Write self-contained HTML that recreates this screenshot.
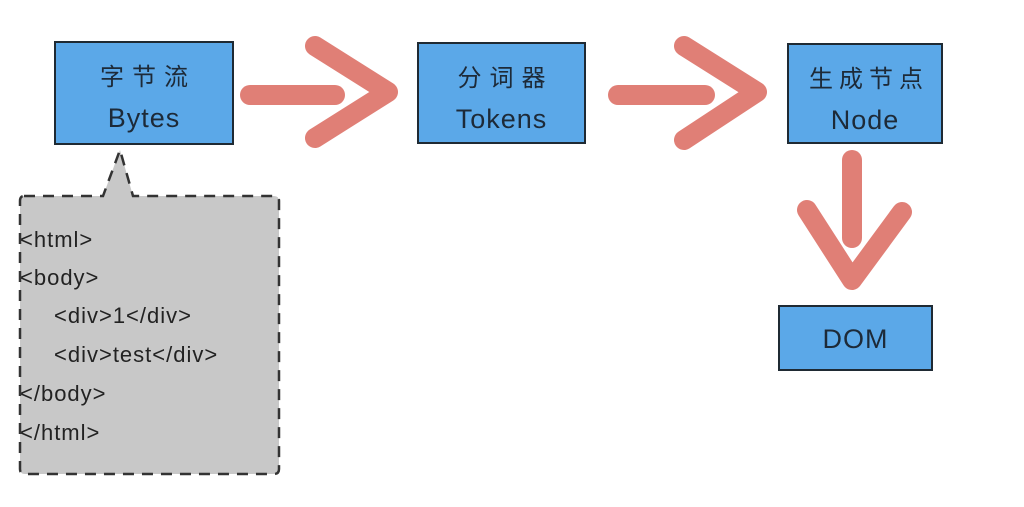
<!DOCTYPE html>
<html><head><meta charset="utf-8"><style>
body{margin:0;background:#fff;width:1024px;height:507px;overflow:hidden;position:relative;font-family:"Liberation Sans","Noto Sans CJK SC",sans-serif;}
.box{position:absolute;background:#5ba8e8;border:2px solid #1f2a33;box-sizing:border-box;color:#1d2a38;text-align:center;font-size:27px;}
.box div{position:absolute;left:0;right:0;}
.box .cn{font-size:24px;letter-spacing:8px;text-indent:8px;}
.box .en{letter-spacing:1px;}
.code{position:absolute;left:20px;font-size:22px;letter-spacing:1px;color:#222;font-family:"Liberation Sans",sans-serif;}
</style></head><body>
<svg width="1024" height="507" style="position:absolute;left:0;top:0">
<path d="M24,196 L103,196 L120,150 L133,196 L274,196 Q279,196 279,201 L279,469 Q279,474 274,474 L25,474 Q20,474 20,469 L20,201 Q20,196 24,196 Z" fill="#c8c8c8" stroke="#333" stroke-width="2.5" stroke-dasharray="11,8"/>
<g stroke="#e07f76" stroke-linecap="round" stroke-linejoin="round" fill="none">
<path d="M250,95 L335,95" stroke-width="20"/>
<path d="M315,46 L388,92 L315,138" stroke-width="20"/>
<path d="M618,95 L705,95" stroke-width="20"/>
<path d="M684,46 L757,92 L684,140" stroke-width="20"/>
<path d="M852,160 L852,238" stroke-width="20"/>
<path d="M807,210 L852,280 L902,212" stroke-width="20"/>
</g>
</svg>
<div class="box" style="left:54px;top:41px;width:180px;height:104px"><div class="cn" style="top:14px">字节流</div><div class="en" style="top:60px">Bytes</div></div>
<div class="box" style="left:417px;top:42px;width:169px;height:102px"><div class="cn" style="top:14px">分词器</div><div class="en" style="top:60px">Tokens</div></div>
<div class="box" style="left:787px;top:43px;width:156px;height:101px"><div class="cn" style="top:14px;letter-spacing:6px">生成节点</div><div class="en" style="top:60px">Node</div></div>
<div class="box" style="left:778px;top:305px;width:155px;height:66px"><div class="en" style="top:17px">DOM</div></div>
<div class="code" style="top:227px">&lt;html&gt;</div>
<div class="code" style="top:265px">&lt;body&gt;</div>
<div class="code" style="top:303px;left:54px">&lt;div&gt;1&lt;/div&gt;</div>
<div class="code" style="top:342px;left:54px">&lt;div&gt;test&lt;/div&gt;</div>
<div class="code" style="top:381px">&lt;/body&gt;</div>
<div class="code" style="top:420px">&lt;/html&gt;</div>
</body></html>
